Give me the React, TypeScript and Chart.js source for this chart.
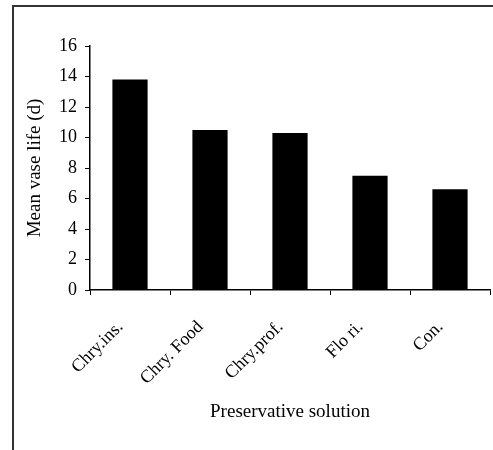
import React, { useEffect, useRef } from "react";
import { Chart, registerables } from "chart.js";

Chart.register(...registerables);

const categories: string[] = ["Chry.ins.", "Chry. Food", "Chry.prof.", "Flo ri.", "Con."];
const meanVaseLife: number[] = [13.8, 10.5, 10.3, 7.5, 6.6];
const yTicks: number[] = [0, 2, 4, 6, 8, 10, 12, 14, 16];
const yTitle = "Mean vase life (d)";
const xTitle = "Preservative solution";

const FONT = "'Liberation Serif', 'Times New Roman', serif";

export default function App() {
  const ref = useRef<HTMLCanvasElement | null>(null);

  useEffect(() => {
    if (!ref.current) return;
    const chart = new Chart(ref.current, {
      type: "bar",
      data: {
        labels: categories,
        datasets: [
          {
            data: meanVaseLife,
            backgroundColor: "#000",
            borderWidth: 0,
            categoryPercentage: 0.88,
            barPercentage: 0.5,
          },
        ],
      },
      options: {
        responsive: false,
        animation: false,
        events: [],
        layout: { padding: { top: 46, right: 3, left: 20, bottom: 0 } },
        plugins: { legend: { display: false }, tooltip: { enabled: false } },
        scales: {
          x: {
            grid: {
              offset: true,
              drawOnChartArea: false,
              drawTicks: true,
              tickLength: 5,
              color: "#000",
              lineWidth: 1,
            },
            border: { display: true, color: "#000", width: 1.5 },
            ticks: {
              color: "#000",
              font: { family: FONT, size: 18 },
              minRotation: 45,
              maxRotation: 45,
              autoSkip: false,
              padding: 12,
              callback: (_v: any, i: number) => categories[i] + "   ",
            },
            title: {
              display: true,
              text: xTitle,
              color: "#000",
              font: { family: FONT, size: 19 },
              padding: { top: 0, bottom: 27 },
            },
            afterFit: (s: any) => {
              s.height = 160;
            },
          },
          y: {
            min: 0,
            max: 16,
            afterBuildTicks: (s: any) => {
              s.ticks = yTicks.map((v) => ({ value: v }));
            },
            grid: {
              drawOnChartArea: false,
              drawTicks: true,
              tickLength: 5,
              color: "#000",
              lineWidth: 1,
            },
            border: { display: true, color: "#000", width: 1.5 },
            ticks: {
              color: "#000",
              font: { family: FONT, size: 18 },
              padding: 8,
            },
            title: {
              display: true,
              text: yTitle,
              color: "#000",
              font: { family: FONT, size: 19 },
              padding: { top: 4, bottom: 0 },
            },
            afterFit: (s: any) => {
              s.width = 70;
            },
          },
        },
      },
    });
    return () => chart.destroy();
  }, []);

  return (
    <div
      style={{
        position: "fixed",
        left: 0,
        top: 0,
        width: 493,
        height: 450,
        background: "#fff",
        overflow: "hidden",
      }}
    >
      <div
        style={{
          position: "absolute",
          left: 12,
          top: 5,
          width: 481,
          height: 445,
          borderLeft: "2px solid #333",
          borderTop: "2px solid #333",
          boxSizing: "border-box",
        }}
      />
      <canvas
        ref={ref}
        width={493}
        height={450}
        style={{ position: "absolute", left: 0, top: 0, width: 493, height: 450 }}
      />
    </div>
  );
}
